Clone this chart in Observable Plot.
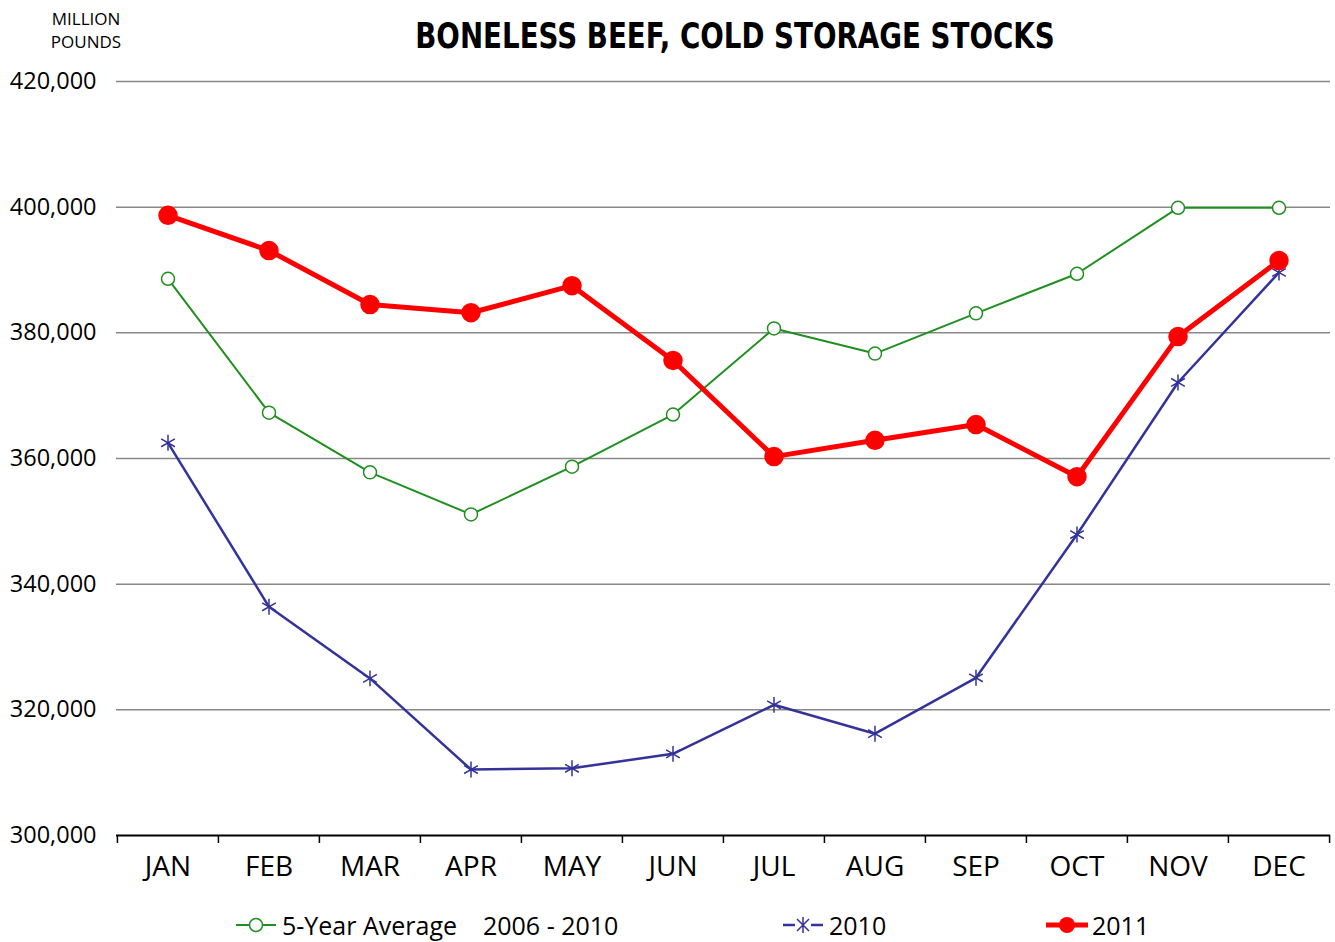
<!DOCTYPE html>
<html><head><meta charset="utf-8">
<script src="https://cdn.jsdelivr.net/npm/d3@7"></script>
<script src="https://cdn.jsdelivr.net/npm/@observablehq/plot@0.6"></script>
<style>
body{margin:0;background:#fff;font-family:"Open Sans",sans-serif;}
#wrap{position:relative;width:1335px;height:942px;overflow:hidden;background:#fff;}
#unit{position:absolute;left:36px;top:7px;width:100px;text-align:center;font-size:17px;line-height:23px;color:#000;}
#title{position:absolute;left:330px;top:16px;width:810px;text-align:center;font-family:"Liberation Sans Narrow","DejaVu Sans Condensed",sans-serif;font-weight:bold;font-size:35px;color:#000;transform:scaleX(0.88);transform-origin:center top;}
#chart{position:absolute;left:0;top:60px;}
.lg{position:absolute;top:908px;font-size:25px;white-space:pre;color:#000;display:flex;align-items:center;}
.lg svg{margin-right:4px;}
</style></head><body>
<div id="wrap">
<div id="unit">MILLION<br>POUNDS</div>
<div id="title">BONELESS BEEF, COLD STORAGE STOCKS</div>
<div id="chart"></div>
<div id="legend"></div>
</div>
<script>
const months = ["JAN","FEB","MAR","APR","MAY","JUN","JUL","AUG","SEP","OCT","NOV","DEC"];
const avg5  = [388600, 367300, 357800, 351100, 358700, 367000, 380700, 376700, 383100, 389400, 399900, 399900];
const y2010 = [362500, 336400, 325000, 310500, 310700, 313000, 320800, 316200, 325100, 347900, 372100, 389600];
const y2011 = [398700, 393100, 384500, 383200, 387500, 375600, 360300, 362900, 365400, 357100, 379400, 391500];
const yTicks = [300000, 320000, 340000, 360000, 380000, 400000, 420000];
const seriesNames = ["5-Year Average    2006 - 2010", "2010", "2011"];

const green = "#1f8f1f", navy = "#33339a", red = "#ff0000";
const toRows = (vals, s) => vals.map((v, i) => ({month: months[i], value: v, series: s}));
const dAvg = toRows(avg5, seriesNames[0]);
const d10 = toRows(y2010, seriesNames[1]);
const d11 = toRows(y2011, seriesNames[2]);

const W = 1335, H = 830, mL = 116, mR = 5, mT = 21, mB = 55;
const bw = (W - mL - mR) / months.length;

const chart = Plot.plot({
  width: W, height: H,
  marginLeft: mL, marginRight: mR, marginTop: mT, marginBottom: mB,
  style: {fontFamily: "'Open Sans', sans-serif", fontSize: "23px", color: "#000", background: "#fff", overflow: "visible"},
  x: {type: "band", domain: months, padding: 0, label: null},
  y: {domain: [300000, 420000], ticks: yTicks, label: null},
  marks: [
    Plot.gridY(yTicks.filter(t => t > 300000), {stroke: "#888", strokeOpacity: 1, strokeWidth: 1.5}),
    Plot.ruleY([300000], {stroke: "#000", strokeWidth: 2}),
    Plot.axisY({ticks: yTicks, tickSize: 0, tickPadding: 20, tickFormat: d3.format(","), label: null, fontSize: 23.5}),
    Plot.axisX({tickSize: 0, tickPadding: 21, label: null, fontSize: 28}),
    Plot.axisX({ticks: months, tickSize: 8, tickFormat: () => "", dx: -bw / 2, label: null, stroke: "#000", strokeWidth: 1.5}),
    Plot.axisX({ticks: [months[months.length - 1]], tickSize: 8, tickFormat: () => "", dx: bw / 2, label: null, stroke: "#000", strokeWidth: 1.5}),
    Plot.line(dAvg, {x: "month", y: "value", stroke: green, strokeWidth: 2}),
    Plot.dot(dAvg, {x: "month", y: "value", r: 6.5, fill: "#fff", stroke: green, strokeWidth: 1.5}),
    Plot.line(d10, {x: "month", y: "value", stroke: navy, strokeWidth: 2.5}),
    Plot.dot(d10, {x: "month", y: "value", symbol: "asterisk", r: 7.5, stroke: navy, strokeWidth: 1.5}),
    Plot.line(d11, {x: "month", y: "value", stroke: red, strokeWidth: 5}),
    Plot.dot(d11, {x: "month", y: "value", r: 9, fill: red, stroke: red})
  ]
});
document.getElementById("chart").appendChild(chart);

// legend
const legendItems = [
  {name: seriesNames[0], left: 236, color: green, kind: "open"},
  {name: seriesNames[1], left: 783, color: navy, kind: "star"},
  {name: seriesNames[2], left: 1046, color: red, kind: "fill"}
];
const lg = document.getElementById("legend");
for (const it of legendItems) {
  const div = document.createElement("div");
  div.className = "lg";
  div.style.left = it.left + "px";
  let marker = "";
  if (it.kind === "open") marker = `<line x1="0" y1="10" x2="40" y2="10" stroke="${it.color}" stroke-width="2"/><circle cx="20" cy="10" r="6.5" fill="#fff" stroke="${it.color}" stroke-width="1.5"/>`;
  if (it.kind === "star") marker = `<line x1="0" y1="10" x2="40" y2="10" stroke="${it.color}" stroke-width="2.5"/><rect x="12" y="2" width="16" height="16" fill="#fff"/><path d="M14,4L26,16M26,4L14,16M20,2L20,18" stroke="${it.color}" stroke-width="1.5"/>`;
  if (it.kind === "fill") marker = `<line x1="0" y1="10" x2="42" y2="10" stroke="${it.color}" stroke-width="5" stroke-linecap="round"/><circle cx="21" cy="10" r="8" fill="${it.color}"/>`;
  div.innerHTML = `<svg width="42" height="20">${marker}</svg><span>${it.name}</span>`;
  lg.appendChild(div);
}
</script>
</body></html>
